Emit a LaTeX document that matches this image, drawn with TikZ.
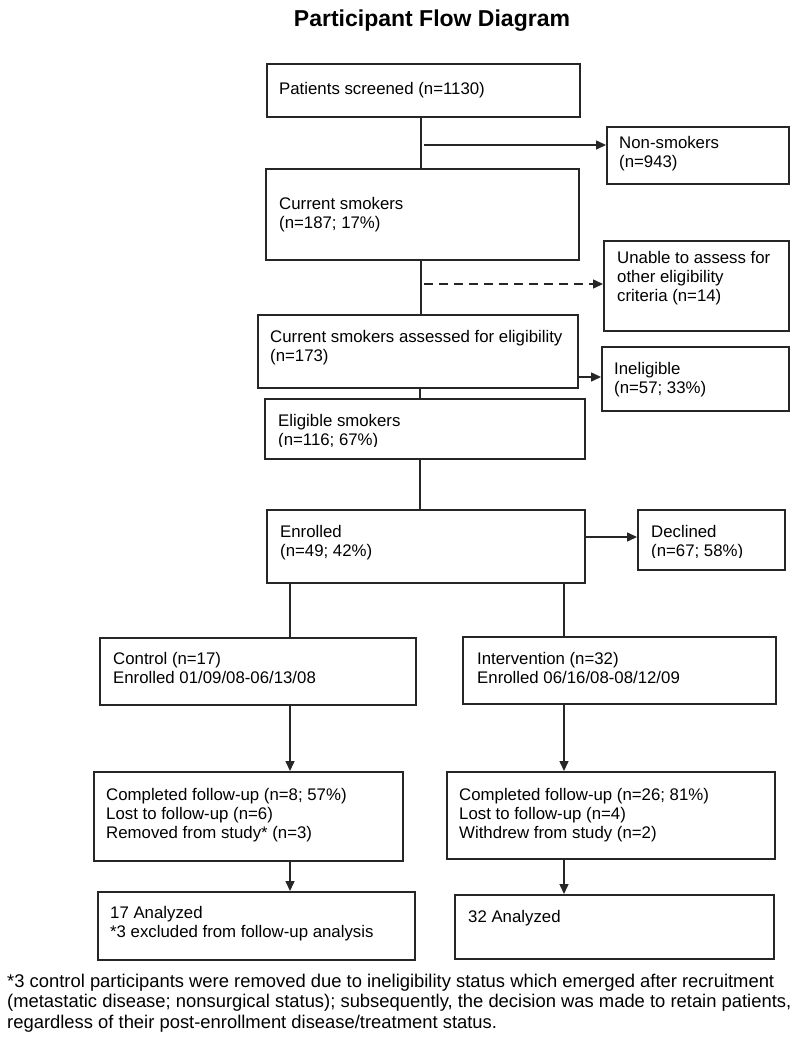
\documentclass[tikz,border=0pt]{standalone}
\usepackage{fontspec}
\setmainfont{Liberation Sans}
\usetikzlibrary{arrows.meta}
\begin{document}
\begin{tikzpicture}[x=1pt,y=-1pt,
  box/.style={draw=black!85,line width=1.5pt,rectangle,inner sep=0pt,anchor=north west},
  txt/.style={font=\fontsize{16.8}{19.3}\selectfont,align=left,anchor=base west,inner sep=0pt},
  conn/.style={draw=black!85,line width=1.5pt},
  arr/.style={conn,-{Triangle[length=10pt,width=9pt]}},
  dashline/.style={dash pattern=on 9pt off 6pt}
]
\useasboundingbox[fill=white] (0,0) rectangle (800,1042);

% title
\node[font=\bfseries\fontsize{23}{26}\selectfont,anchor=base,inner sep=0pt] (title) at (432,26) {Participant Flow Diagram};

% boxes
\node[box,minimum width=313pt,minimum height=53pt] (pat) at (266,63) {};
\node[box,minimum width=182pt,minimum height=57pt] (non) at (606,126) {};
\node[box,minimum width=313pt,minimum height=91pt] (cur) at (265,168) {};
\node[box,minimum width=185pt,minimum height=90pt] (una) at (603,240) {};
\node[box,minimum width=320pt,minimum height=73pt] (ass) at (257,314) {};
\node[box,minimum width=187pt,minimum height=64pt] (ine) at (601,346) {};
\node[box,minimum width=320pt,minimum height=60pt] (eli) at (264,398) {};
\node[box,minimum width=318pt,minimum height=73pt] (enr) at (266,509) {};
\node[box,minimum width=147pt,minimum height=60pt] (dec) at (637,509) {};
\node[box,minimum width=316pt,minimum height=67pt] (con) at (99,637) {};
\node[box,minimum width=313pt,minimum height=67pt] (int) at (462,636) {};
\node[box,minimum width=309pt,minimum height=89pt] (cl) at (93,771) {};
\node[box,minimum width=328pt,minimum height=87pt] (cr) at (446,771) {};
\node[box,minimum width=317pt,minimum height=68pt] (al) at (97,891) {};
\node[box,minimum width=319pt,minimum height=64pt] (ar) at (454,894) {};

% texts (anchor = baseline of the last line)
\node[txt] (patT) at (279,94) {Patients screened (n=1130)};
\node[txt] (nonT) at (619,167.3) {Non-smokers\\(n=943)};
\node[txt] (curT) at (279,228.3) {Current smokers\\(n=187; 17\%)};
\node[txt] (unaT) at (617,301.6) {Unable to assess for\\other eligibility\\criteria (n=14)};
\node[txt] (assT) at (270,361.3) {Current smokers assessed for eligibility\\(n=173)};
\node[txt] (ineT) at (614,393.3) {Ineligible\\(n=57; 33\%)};
\begin{scope}
  \clip (264,398) rectangle (584,446);
  \node[txt] (eliT) at (278,445.3) {Eligible smokers\\(n=116; 67\%)};
\end{scope}
\node[txt] (enrT) at (280,556.3) {Enrolled\\(n=49; 42\%)};
\begin{scope}
  \clip (637,509) rectangle (784,557);
  \node[txt] (decT) at (651,556.3) {Declined\\(n=67; 58\%)};
\end{scope}
\node[txt] (conT) at (113,683.3) {Control (n=17)\\Enrolled 01/09/08-06/13/08};
\node[txt] (intT) at (477,683.3) {Intervention (n=32)\\Enrolled 06/16/08-08/12/09};
\node[txt] (clT) at (106,838.6) {Completed follow-up (n=8; 57\%)\\Lost to follow-up (n=6)\\Removed from study* (n=3)};
\node[txt] (crT) at (459,838.6) {Completed follow-up (n=26; 81\%)\\Lost to follow-up (n=4)\\Withdrew from study (n=2)};
\node[txt] (alT) at (110,937.3) {17 Analyzed\\*3 excluded from follow-up analysis};
\node[txt] (arT) at (468,922) {32 Analyzed};

% footnote
\node[font=\fontsize{18.4}{20.4}\selectfont,align=left,anchor=base west,inner sep=0pt] (note) at (7,1028)
 {*3 control participants were removed due to ineligibility status which emerged after recruitment\\
  (metastatic disease; nonsurgical status); subsequently, the decision was made to retain patients,\\
  regardless of their post-enrollment disease/treatment status.};

% junction coordinates
\coordinate (j1) at (424,145);
\coordinate (j2) at (424,284);
\coordinate (j3) at (420,377);
\coordinate (j4) at (420,537);
\coordinate (cx) at (421,0);
\coordinate (ex) at (420,0);
\coordinate (lx) at (290,0);
\coordinate (rx) at (564,0);

% connectors
\draw[conn] (pat.south -| cx) -- (cur.north -| cx);
\draw[arr] (j1) -- (j1 -| non.west);
\draw[conn] (cur.south -| cx) -- (ass.north -| cx);
\draw[arr,dashline] (j2) -- (j2 -| una.west);
\draw[arr] (j3 -| ass.east) -- (j3 -| ine.west);
\draw[conn] (ass.south -| ex) -- (eli.north -| ex);
\draw[conn] (eli.south -| ex) -- (enr.north -| ex);
\draw[arr] (j4 -| enr.east) -- (j4 -| dec.west);
\draw[conn] (enr.south -| lx) -- (con.north -| lx);
\draw[conn] (enr.south -| rx) -- (int.north -| rx);
\draw[arr] (con.south -| lx) -- (cl.north -| lx);
\draw[arr] (int.south -| rx) -- (cr.north -| rx);
\draw[arr] (cl.south -| lx) -- (al.north -| lx);
\draw[arr] (cr.south -| rx) -- (ar.north -| rx);
\end{tikzpicture}
\end{document}
